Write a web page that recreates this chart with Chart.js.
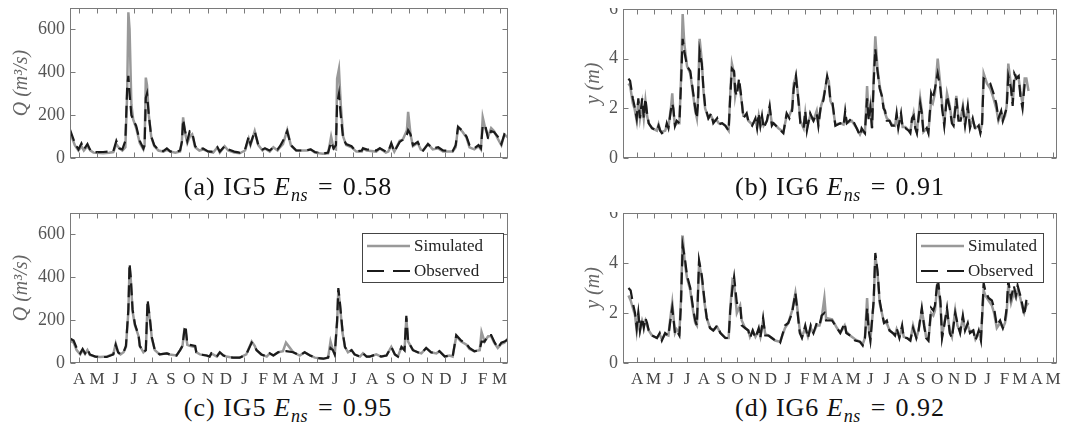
<!DOCTYPE html>
<html><head><meta charset="utf-8">
<script src="https://cdn.jsdelivr.net/npm/chart.js@4.4.1/dist/chart.umd.min.js"></script>
<style>
body{margin:0;width:1079px;height:434px;background:#fff;position:relative;overflow:hidden;}
.wrap{position:absolute;overflow:hidden;}
canvas{position:absolute;}
.cap{position:absolute;font-family:'Liberation Serif',serif;font-size:26px;letter-spacing:1px;color:#111;white-space:nowrap;transform:translate(-50%,-50%);line-height:1;}
.cap sub{font-size:18px;vertical-align:-6px;line-height:0;letter-spacing:0.5px;}
.cap .eq{margin:0 9px 0 10px;}
</style></head><body>
<canvas id="ca" width="540" height="183" style="left:0;top:-8px"></canvas>
<canvas id="cc" width="540" height="195" style="left:0;top:197px"></canvas>
<div class="wrap" style="left:540px;top:8px;width:539px;height:167px"><canvas id="cb" width="539" height="182" style="left:0;top:-15px"></canvas></div>
<div class="wrap" style="left:540px;top:212px;width:539px;height:180px"><canvas id="cd" width="539" height="195" style="left:0;top:-15px"></canvas></div>
<div class="cap" style="left:288px;top:187px">(a) IG5 <i>E</i><sub><i>ns</i></sub><span class="eq">=</span>0.58</div>
<div class="cap" style="left:840px;top:187px">(b) IG6 <i>E</i><sub><i>ns</i></sub><span class="eq">=</span>0.91</div>
<div class="cap" style="left:288px;top:408px">(c) IG5 <i>E</i><sub><i>ns</i></sub><span class="eq">=</span>0.95</div>
<div class="cap" style="left:840px;top:408px">(d) IG6 <i>E</i><sub><i>ns</i></sub><span class="eq">=</span>0.92</div>
<script>
// Month ticks (days from 1 April of first year) and their labels
const MONTH_TICK_DAYS = [0,30,61,91,122,153,183,214,244,275,306,334,365,395,426,456,487,518,548,579,609,640,671,699,730,760];
const MONTH_LABELS = ['A','M','J','J','A','S','O','N','D','J','F','M','A','M','J','J','A','S','O','N','D','J','F','M','A','M'];

// (a) IG5, discharge Q (m3/s)
const A_DAYS = [-15,-7,-1,4,8,14,19,24,40,50,
 57,62,67,72,77,80,82,84,87,90,
 95,101,107,109,111,113,116,120,125,132,
 140,146,152,160,168,171,173,176,180,184,
 188,193,200,206,215,223,230,234,242,248,
 258,267,276,282,285,292,298,305,309,317,
 323,330,334,339,346,352,361,378,385,392,
 405,414,419,423,427,429,432,435,439,444,
 453,461,470,472,478,494,500,510,514,519,
 524,533,538,545,547,551,555,563,568,572,
 580,588,597,605,621,626,630,638,644,649,
 657,664,668,671,675,680,685,690,696,702,
 707,713];
const A_SIM = [120,60,35,55,35,55,35,25,22,25,
 28,65,45,35,50,300,680,600,250,180,
 140,70,40,60,375,340,200,100,55,35,
 30,38,30,25,30,80,190,120,70,100,
 110,50,35,40,30,25,50,25,55,35,
 25,22,35,90,60,125,60,35,45,30,
 50,35,50,65,130,60,35,35,40,25,
 20,22,100,45,40,370,415,250,100,60,
 50,30,30,45,35,30,45,25,30,60,
 30,80,85,130,215,110,55,70,40,35,
 65,40,45,30,30,50,145,120,95,50,
 40,55,40,190,140,100,140,125,90,60,
 110,95];
const A_OBS = [133,70,40,68,40,65,35,27,28,30,
 32,80,45,40,80,330,383,300,200,180,
 150,80,45,60,280,300,200,100,60,38,
 32,45,30,28,35,75,180,130,80,125,
 120,55,40,45,30,30,50,30,55,40,
 30,25,40,100,65,125,60,40,45,35,
 50,40,55,80,125,60,35,35,40,28,
 20,25,75,45,60,250,300,200,90,65,
 55,30,35,45,40,35,45,30,30,70,
 30,75,85,110,130,110,60,75,45,35,
 65,45,50,35,32,60,145,125,100,60,
 45,60,45,150,155,90,125,120,100,65,
 110,100];

// (c) IG5, discharge Q (m3/s)
const C_DAYS = [-15,-9,-4,2,6,10,14,18,27,35,
 46,57,61,65,69,74,78,82,84,86,
 89,93,99,101,107,111,114,118,121,126,
 134,146,151,162,168,172,175,177,180,184,
 193,195,201,212,217,220,229,234,240,245,
 256,267,278,287,292,295,303,312,317,323,
 331,339,344,356,367,375,384,392,406,414,
 418,422,425,429,431,433,438,442,447,453,
 458,467,472,478,483,494,502,511,519,525,
 530,536,541,544,547,555,563,569,577,585,
 594,599,608,616,621,627,635,644,649,657,
 666,669,674,680,685,690,696,702,707,713];
const C_SIM = [105,95,60,40,60,42,60,38,30,28,
 30,42,90,50,40,50,75,240,445,390,
 240,175,125,80,50,60,280,200,115,60,
 40,45,40,35,60,80,155,150,85,80,
 75,50,40,35,30,45,30,50,35,30,
 25,25,40,100,80,60,40,30,45,35,
 50,55,95,50,35,50,35,25,20,25,
 100,60,40,190,340,290,140,75,50,60,
 40,30,45,30,30,40,30,35,75,40,
 30,75,60,210,100,60,50,45,70,50,
 45,55,30,35,30,125,100,85,65,55,
 60,145,100,125,125,95,70,90,95,115];
const C_OBS = [115,105,70,45,65,45,65,40,30,28,
 28,40,85,50,40,50,80,250,465,400,
 250,180,130,80,50,60,295,200,120,60,
 40,45,40,35,60,80,150,175,90,85,
 80,50,40,35,30,45,30,50,35,30,
 25,25,40,95,80,60,40,30,45,35,
 50,55,55,50,35,50,35,25,20,25,
 70,60,40,200,350,300,150,75,50,60,
 40,30,45,30,30,40,30,35,75,40,
 30,75,60,220,100,60,50,45,70,50,
 45,55,30,35,30,130,105,90,70,55,
 60,100,100,130,130,100,70,95,100,110];

// (b) IG6, stage y (m)
const B_DAYS = [-16,-13,-8,-5,-1,2,5,9,12,15,
 18,21,27,36,39,42,45,51,54,57,
 62,64,66,69,72,77,80,83,86,91,
 97,100,103,106,109,111,114,118,121,124,
 130,135,139,146,149,155,161,167,170,173,
 177,179,182,186,190,194,200,203,210,216,
 219,222,225,228,231,237,242,246,249,258,
 267,273,278,283,286,290,295,298,304,307,
 310,316,322,328,331,336,340,347,350,353,
 357,362,371,377,380,383,392,401,407,410,
 416,420,423,426,429,432,435,439,443,447,
 450,453,456,461,465,471,474,477,482,485,
 490,496,499,502,505,508,511,517,520,523,
 529,532,537,540,544,549,554,557,561,566,
 571,575,578,583,587,591,595,599,604,608,
 613,618,624,627,630,633,639,645,651,656,
 660,665,668,672,675,678,683,686,689,693,
 697,700,704,708,711,715];
const B_OBS = [3.2,3.1,2.4,2.1,1.6,2.4,1.6,2.4,1.6,2.4,
 1.8,1.4,1.2,1.1,1.3,1.1,1.0,1.1,1.4,1.2,
 2.0,2.2,2.0,1.3,1.5,1.4,3.0,4.8,4.3,3.7,
 3.5,3.0,2.5,2.0,1.6,2.2,4.3,3.8,2.8,2.1,
 1.6,1.8,1.4,1.6,1.35,1.4,1.3,1.1,2.5,3.6,
 3.5,2.7,2.5,3.2,2.5,1.6,1.8,1.5,1.3,1.6,
 1.2,1.8,1.3,1.7,1.2,1.5,2.1,1.3,1.4,1.2,
 1.0,1.8,1.6,1.9,2.8,3.3,2.2,1.4,1.2,1.9,
 1.1,1.8,1.5,1.8,1.3,2.2,2.3,3.3,3.0,2.3,
 2.2,1.3,1.4,1.3,1.9,1.4,1.6,1.2,0.9,1.2,
 1.0,2.4,1.5,2.0,1.2,3.0,4.4,3.5,2.8,2.5,
 2.0,1.9,1.5,1.5,1.3,1.3,1.8,1.2,1.8,1.2,
 1.2,1.1,1.0,1.6,1.7,1.2,1.0,2.2,1.8,1.0,
 1.2,1.0,2.6,2.4,2.8,3.4,2.8,2.0,1.3,2.5,
 2.0,1.4,1.3,2.4,1.5,1.5,2.0,1.3,2.1,1.2,
 1.6,1.1,1.3,1.0,1.3,3.2,3.1,3.0,2.6,2.2,
 1.6,1.9,1.5,1.8,2.0,3.3,2.8,2.1,3.4,3.2,
 3.3,2.5,2.0,3.0,3.1,3.1];
const B_SIM = [3.0,2.9,2.2,2.0,1.5,2.3,1.6,2.2,1.6,2.3,
 1.7,1.4,1.2,1.1,1.35,1.1,1.05,1.1,1.3,1.25,
 2.1,2.6,1.9,1.3,1.4,1.4,3.2,5.8,4.6,3.7,
 3.4,2.9,2.4,1.9,1.6,2.4,4.8,3.9,2.7,2.0,
 1.6,1.7,1.5,1.5,1.4,1.4,1.3,1.1,2.6,3.8,
 3.4,2.5,2.9,3.0,2.4,1.7,1.7,1.5,1.35,1.5,
 1.25,1.7,1.3,1.6,1.3,1.5,2.0,1.4,1.4,1.2,
 1.05,1.7,1.7,2.0,3.0,3.3,2.3,1.5,1.2,1.8,
 1.2,1.7,1.5,1.9,1.4,2.1,2.4,3.2,3.1,2.3,
 2.1,1.35,1.4,1.35,1.7,1.4,1.5,1.2,0.95,1.1,
 1.0,2.9,1.6,2.1,1.2,3.3,4.9,3.6,2.9,2.5,
 2.1,1.8,1.6,1.5,1.35,1.3,1.7,1.3,1.7,1.25,
 1.25,1.1,1.05,1.5,1.8,1.3,1.05,2.4,1.9,1.05,
 1.2,1.05,2.3,2.2,2.6,4.0,2.9,2.2,1.4,2.6,
 2.1,1.5,1.4,2.5,1.6,1.6,2.1,1.4,2.0,1.3,
 1.5,1.2,1.3,1.05,1.4,3.4,3.0,2.8,2.4,2.0,
 1.5,1.8,1.5,1.7,2.1,3.8,2.9,2.2,3.1,3.3,
 3.2,2.7,2.2,3.2,3.2,2.7];

// (d) IG6, stage y (m)
const D_DAYS = [-16,-12,-8,-4,-1,2,5,9,12,15,
 18,21,27,36,41,45,51,57,60,64,
 69,72,77,80,83,87,91,97,102,106,
 109,113,118,123,127,133,139,146,152,161,
 167,170,174,177,182,188,191,197,203,206,
 211,216,222,225,230,234,240,246,252,261,
 270,276,283,289,292,297,301,307,312,317,
 322,328,333,337,342,345,356,365,371,379,
 382,389,398,407,412,416,420,423,426,432,
 435,439,443,447,451,456,461,467,471,474,
 479,484,487,493,499,504,510,514,520,524,
 528,532,537,541,544,549,554,557,561,566,
 571,575,581,585,590,595,599,604,608,614,
 618,624,628,633,636,642,648,652,657,663,
 668,672,675,678,683,688,692,695,700,704,
 707,711,715];
const D_OBS = [3.0,2.9,2.4,2.0,1.4,2.0,1.3,1.8,1.4,1.8,
 1.6,1.3,1.1,1.0,1.2,0.9,1.2,1.1,1.6,2.2,
 1.2,1.3,1.1,2.4,4.7,4.2,3.5,3.0,2.2,1.7,
 1.5,4.1,3.5,2.5,1.8,1.4,1.3,1.5,1.2,1.0,
 1.0,2.1,3.0,3.45,2.4,2.4,1.5,1.4,1.3,1.0,
 1.3,1.0,1.4,1.0,1.8,1.1,1.1,1.0,0.9,0.8,
 1.5,1.6,2.0,2.8,2.2,1.2,1.0,1.5,1.0,1.5,
 1.2,1.6,1.5,1.9,2.0,1.7,1.7,1.4,1.2,1.6,
 1.2,1.1,0.9,0.85,0.7,1.0,2.2,1.3,0.9,2.5,
 4.4,3.7,2.5,2.0,1.6,1.7,1.3,1.2,1.1,1.4,
 1.0,1.5,1.0,1.0,0.9,1.4,1.0,1.3,2.2,1.5,
 1.0,0.9,2.2,2.1,2.3,3.4,2.5,1.0,1.5,2.2,
 1.2,1.0,2.0,1.6,1.2,1.9,1.3,1.6,1.2,1.3,
 0.9,1.3,0.9,3.2,2.9,2.6,2.5,2.2,1.5,1.7,
 1.4,1.7,2.2,3.3,2.6,3.1,2.7,3.1,2.7,2.3,
 1.9,2.5,2.7];
const D_SIM = [2.7,2.5,2.2,1.9,1.3,1.9,1.3,1.7,1.5,1.7,
 1.5,1.3,1.1,1.0,1.15,0.95,1.15,1.1,1.7,2.4,
 1.2,1.35,1.2,2.6,5.1,4.0,3.4,2.9,2.1,1.6,
 1.5,4.0,3.4,2.4,1.8,1.4,1.3,1.45,1.2,1.0,
 1.0,2.2,3.3,3.2,2.0,2.3,1.7,1.4,1.3,1.05,
 1.3,1.05,1.3,1.05,1.7,1.15,1.1,1.0,0.9,0.85,
 1.4,1.6,2.1,2.8,2.3,1.3,1.05,1.4,1.05,1.4,
 1.2,1.5,1.5,1.8,2.6,1.8,1.75,1.4,1.2,1.5,
 1.25,1.1,0.95,0.85,0.75,1.0,2.6,1.4,0.95,2.4,
 4.3,3.6,2.4,2.0,1.6,1.6,1.3,1.2,1.1,1.35,
 1.05,1.4,1.05,1.0,0.9,1.5,1.0,1.3,2.1,1.6,
 1.0,0.9,2.0,1.9,2.1,3.3,2.3,1.1,1.6,2.1,
 1.3,1.05,2.1,1.5,1.25,1.8,1.35,1.5,1.25,1.3,
 0.95,1.2,0.95,2.9,2.7,2.5,2.3,2.0,1.4,1.6,
 1.4,1.6,2.0,3.1,2.4,2.8,2.6,2.9,2.6,2.2,
 2.0,2.3,2.4];

const SERIF = "'Liberation Serif', serif";

const framePlugin = {
  id: 'frameBox',
  afterDatasetsDraw(chart) {
    const {ctx, chartArea: a, scales: {x, y}} = chart;
    ctx.save();
    ctx.strokeStyle = '#7a7a7a';
    ctx.lineWidth = 1;
    const L = Math.round(a.left) + 0.5, T = Math.round(a.top) + 0.5;
    const R = Math.round(a.right) - 0.5, B = Math.round(a.bottom) - 0.5;
    ctx.strokeRect(L, T, R - L, B - T);
    ctx.beginPath();
    x.ticks.forEach(t => {
      const px = Math.round(x.getPixelForValue(t.value)) + 0.5;
      ctx.moveTo(px, T); ctx.lineTo(px, T + 5);
      ctx.moveTo(px, B); ctx.lineTo(px, B - 5);
    });
    y.ticks.forEach(t => {
      const py = Math.round(y.getPixelForValue(t.value)) + 0.5;
      ctx.moveTo(L, py); ctx.lineTo(L + 5, py);
      ctx.moveTo(R, py); ctx.lineTo(R - 5, py);
    });
    ctx.stroke();
    ctx.restore();
  }
};

const legendPlugin = {
  id: 'boxLegend',
  afterDatasetsDraw(chart, args, o) {
    if (!o || !o.show) return;
    const {ctx, chartArea: a} = chart;
    const left = Math.round(a.left + o.left), right = Math.round(a.right - o.right);
    const top = Math.round(a.top + o.top), h = o.height;
    ctx.save();
    ctx.fillStyle = '#fff';
    ctx.fillRect(left, top, right - left, h);
    ctx.strokeStyle = '#444'; ctx.lineWidth = 1;
    ctx.strokeRect(left + 0.5, top + 0.5, right - left, h);
    chart.data.datasets.forEach((ds, i) => {
      const yy = top + o.rows[i];
      ctx.beginPath();
      ctx.setLineDash(ds.legendDash || []);
      ctx.strokeStyle = ds.borderColor; ctx.lineWidth = ds.borderWidth;
      ctx.moveTo(left + 5, yy); ctx.lineTo(left + 48, yy); ctx.stroke();
      ctx.setLineDash([]);
      ctx.fillStyle = '#222';
      ctx.font = "17px " + SERIF;
      ctx.textBaseline = 'middle';
      ctx.fillText(ds.label, left + 52, yy + 1);
    });
    ctx.restore();
  }
};

function makeChart(id, c) {
  const toPts = (xs, ys) => xs.map((d, i) => ({x: d, y: ys[i]}));
  new Chart(document.getElementById(id), {
    type: 'line',
    data: {
      datasets: [
        {label: 'Simulated', data: toPts(c.days, c.sim), borderColor: '#999999', borderWidth: 2.5,
         pointRadius: 0, tension: 0, order: 2, legendDash: []},
        {label: 'Observed', data: toPts(c.days, c.obs), borderColor: '#1b1b1b', borderWidth: 2.2,
         borderDash: [12, 6], pointRadius: 0, tension: 0, order: 1, legendDash: [17, 9]}
      ]
    },
    options: {
      responsive: false, animation: false, events: [],
      layout: {padding: {top: 16, right: c.padRight, bottom: 0, left: 0}},
      plugins: {legend: {display: false}, tooltip: {enabled: false}, boxLegend: c.legend},
      scales: {
        x: {
          type: 'linear', min: c.xmin, max: c.xmax,
          afterBuildTicks: s => { s.ticks = c.tickDays.map(v => ({value: v})); },
          afterFit: s => { s.height = c.xHeight; },
          grid: {display: false, drawTicks: false}, border: {display: false},
          ticks: {display: c.showX, autoSkip: false, maxRotation: 0, minRotation: 0, padding: 6,
                  font: {family: SERIF, size: 17}, color: '#444',
                  callback: (v, i) => c.tickLabels[i]}
        },
        y: {
          min: 0, max: c.ymax,
          afterFit: s => { s.width = c.yWidth; },
          grid: {display: false, drawTicks: false}, border: {display: false},
          ticks: {stepSize: c.ystep, includeBounds: false, padding: 5,
                  font: {family: SERIF, size: 18}, color: '#555'},
          title: {display: true, text: c.ytitle, color: '#666',
                  font: {family: SERIF, size: 20, style: 'italic'}, padding: {top: c.titlePad, bottom: 0}}
        }
      }
    },
    plugins: [framePlugin, legendPlugin]
  });
}

const IG5_TICKS = MONTH_TICK_DAYS.slice(0, 24), IG5_LABELS = MONTH_LABELS.slice(0, 24);

makeChart('ca', {days: A_DAYS, sim: A_SIM, obs: A_OBS, xmin: -15, xmax: 713, tickDays: IG5_TICKS, tickLabels: IG5_LABELS,
  showX: false, xHeight: 17, ymax: 700, ystep: 200, yWidth: 70, padRight: 32, titlePad: 10, ytitle: 'Q (m³/s)', legend: false});
makeChart('cc', {days: C_DAYS, sim: C_SIM, obs: C_OBS, xmin: -15, xmax: 713, tickDays: IG5_TICKS, tickLabels: IG5_LABELS,
  showX: true, xHeight: 29, ymax: 700, ystep: 200, yWidth: 70, padRight: 32, titlePad: 10, ytitle: 'Q (m³/s)',
  legend: {show: true, left: 292, right: 5, top: 20, height: 49, rows: [13, 38]}});
makeChart('cb', {days: B_DAYS, sim: B_SIM, obs: B_OBS, xmin: -26, xmax: 767, tickDays: MONTH_TICK_DAYS, tickLabels: MONTH_LABELS,
  showX: false, xHeight: 17, ymax: 6, ystep: 2, yWidth: 83, padRight: 22, titlePad: 42, ytitle: 'y (m)', legend: false});
makeChart('cd', {days: D_DAYS, sim: D_SIM, obs: D_OBS, xmin: -26, xmax: 767, tickDays: MONTH_TICK_DAYS, tickLabels: MONTH_LABELS,
  showX: true, xHeight: 29, ymax: 6, ystep: 2, yWidth: 83, padRight: 22, titlePad: 42, ytitle: 'y (m)',
  legend: {show: true, left: 293, right: 14, top: 20, height: 49, rows: [13, 38]}});
</script>
</body></html>
